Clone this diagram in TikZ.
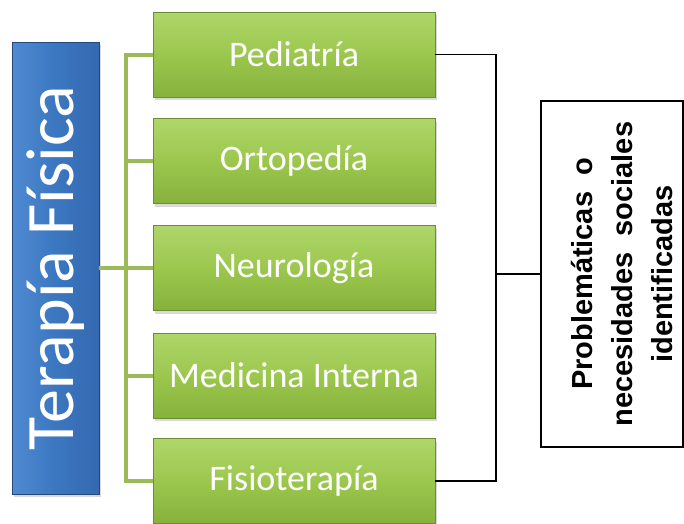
\documentclass[tikz,border=0pt]{standalone}
\usepackage{fontspec}
\usetikzlibrary{shadows}
\newfontfamily\calibrifont{Carlito}
\newfontfamily\arialfont{Liberation Sans}
\definecolor{tBlue}{HTML}{3B77C0}
\definecolor{tBlueL}{HTML}{4F8AD2}
\definecolor{tBlueD}{HTML}{3469B0}
\definecolor{tGreen}{HTML}{9CC74E}
\definecolor{tGreenL}{HTML}{AED66A}
\definecolor{tGreenD}{HTML}{86B23C}
\definecolor{tLine}{HTML}{9BBB59}

\begin{document}
\begin{tikzpicture}[x=1pt,y=-1pt]
		\tikzstyle{AREA} = [draw=tGreenD!80!black, line width=0.8pt, minimum width=282pt, minimum height=85pt, text=white, font=\calibrifont\fontsize{36}{40}\selectfont, drop shadow={opacity=0.3, shadow xshift=2pt, shadow yshift=-3pt}]
		\tikzstyle{area} = [AREA, top color=tGreenL, bottom color=tGreenD, middle color=tGreen]
		\tikzstyle{main} = [draw=tBlueD!70!black, line width=0.8pt, minimum width=87pt, minimum height=452pt, left color=tBlueL, right color=tBlueD, middle color=tBlue, text=white, font=\calibrifont\fontsize{68}{80}\selectfont, drop shadow={opacity=0.3, shadow xshift=2pt, shadow yshift=-3pt}]
		\tikzstyle{result} = [draw=black, line width=1.5pt, fill=white, minimum width=142pt, minimum height=346pt]
		\tikzstyle{resulttext} = [font=\arialfont\bfseries\fontsize{29}{40}\selectfont, align=center]
		\tikzstyle{gline} = [draw=tLine, line width=4pt]
		\tikzstyle{bline} = [draw=black, line width=1.5pt]

		\useasboundingbox (0,0) rectangle (684,523);

		\node[main] (tf) at 		(55.5, 268) {\rotatebox{90}{Terapía Física}};
		\coordinate (gj) at 		(126, 268);

		\node[area] (pedia) at 		(294, 54.5) {Pediatría};
		\node[area] (orto) at 		(294, 161) {Ortopedía};
		\node[area] (neuro) at 		(294, 268) {Neurología};
		\node[area] (medint) at 	(294, 375.5) {Medicina Interna};
		\node[area] (fisio) at 		(294, 481) {Fisioterapía};

		\node[result] (prob) at 	(612, 274) {};
		\node[resulttext] (probtxt) at 	(624, 274) {\rotatebox{90}{\begin{tabular}{@{}c@{}}
			Problemáticas\hspace{16pt}o\\
			necesidades\hspace{16pt}sociales\\
			identificadas\end{tabular}}};
		\coordinate (bj) at 		(496, 274);

		% green branches
		\draw[gline] (tf.east) -- (gj);
		\draw[gline] (gj) |- (pedia.west);
		\draw[gline] (gj) |- (orto.west);
		\draw[gline] (gj) -- (neuro.west);
		\draw[gline] (gj) |- (medint.west);
		\draw[gline] (gj) |- (fisio.west);

		% black bracket
		\draw[bline] (pedia.east) -| (bj) |- (fisio.east);
		\draw[bline] (bj) -- (prob.west);
\end{tikzpicture}
\end{document}
